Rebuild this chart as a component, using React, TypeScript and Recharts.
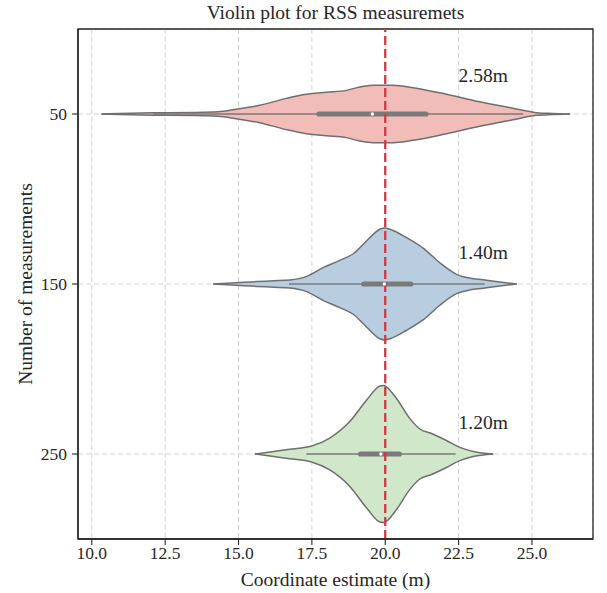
import { Area, CartesianGrid, ComposedChart, ReferenceArea, ReferenceDot, ReferenceLine, XAxis, YAxis } from "recharts"

const FONT = '"Liberation Serif", "DejaVu Serif", serif'
const INK = "#262626"
const OUTLINE = "#6f6f6f"

const categories = ["50", "150", "250"]
const fills = ["#f2bdb9", "#b9cde0", "#d0e7ca"]
const errorLabels = ["2.58m", "1.40m", "1.20m"]
const labelX = [22.5, 22.5, 22.5]
const labelY = [-0.19, 0.85, 1.85]

// violin outlines: coordinate -> half width (share of one category band)
const pinkX = [10.33, 12.1, 13.5, 14.3, 14.93, 15.72, 16.63, 17.31, 18.0, 18.68, 19.13, 19.59, 20.27, 20.95, 22.09, 23.22, 24.35, 25.15, 25.7, 26.29]
const pinkW = [0, 0.007, 0.009, 0.013, 0.028, 0.051, 0.092, 0.116, 0.128, 0.139, 0.159, 0.169, 0.169, 0.155, 0.116, 0.072, 0.034, 0.008, 0.003, 0]
const blueX = [14.14, 14.9, 15.61, 16.2, 16.75, 17.32, 17.88, 18.45, 18.91, 19.36, 19.82, 19.99, 20.16, 20.73, 21.3, 21.86, 22.43, 22.9, 23.34, 23.9, 24.48]
const blueW = [0, 0.007, 0.014, 0.019, 0.024, 0.045, 0.096, 0.139, 0.178, 0.253, 0.322, 0.329, 0.322, 0.272, 0.21, 0.125, 0.057, 0.034, 0.025, 0.012, 0]
const greenX = [15.56, 16.2, 16.75, 17.49, 18.11, 18.8, 19.36, 19.82, 19.95, 20.05, 20.39, 20.84, 21.18, 21.6, 22.07, 22.54, 23.0, 23.68]
const greenW = [0, 0.015, 0.028, 0.047, 0.094, 0.192, 0.316, 0.4, 0.403, 0.394, 0.325, 0.208, 0.147, 0.119, 0.081, 0.039, 0.015, 0]

// inner box: quartiles, median, whisker ends
const q1 = [17.66, 19.19, 19.08]
const q3 = [21.47, 20.95, 20.56]
const medians = [19.56, 19.97, 19.85]
const whiskerLo = [12.09, 16.72, 17.31]
const whiskerHi = [24.7, 23.39, 22.4]

const xTicks = [10, 12.5, 15, 17.5, 20, 22.5, 25]
const truth = 20

const violins = [
  { xs: pinkX, ws: pinkW },
  { xs: blueX, ws: blueW },
  { xs: greenX, ws: greenW },
].map((v, i) => v.xs.map((x, j) => ({ x, r: [i - v.ws[j], i + v.ws[j]] })))

const XMIN = 9.53
const XMAX = 27.08
const YMIN = -0.5
const YMAX = 2.5

const XTick = (p: any) => (
  <text x={p.x} y={p.y} dy={12.5} textAnchor="middle" fill={INK} fontSize={17.5} fontFamily={FONT}>
    {p.payload.value.toFixed(1)}
  </text>
)

const YTick = (p: any) => (
  <text x={p.x} y={p.y} dy={6} textAnchor="end" fill={INK} fontSize={17.5} fontFamily={FONT}>
    {categories[p.payload.value]}
  </text>
)

export default function App() {
  return (
    <div style={{ position: "absolute", left: 0, top: 0 }}>
      <ComposedChart
        width={607}
        height={593}
        margin={{ top: 29, right: 14, bottom: 14, left: 0 }}
        style={{ fontFamily: FONT }}
      >
        <CartesianGrid stroke="#d4d4d4" strokeDasharray="5 3" />
        <XAxis
          dataKey="x"
          type="number"
          domain={[XMIN, XMAX]}
          allowDataOverflow
          ticks={xTicks}
          tick={<XTick />}
          tickSize={6}
          tickMargin={1}
          axisLine={{ stroke: INK, strokeWidth: 1.3 }}
          tickLine={{ stroke: INK, strokeWidth: 1.1 }}
          height={40}
          label={{
            content: (p: any) => {
              const vb = p.viewBox || { x: 78, y: 539, width: 515 }
              return (
                <text x={vb.x + vb.width / 2} y={vb.y + 47} textAnchor="middle" fill={INK} fontSize={19.5} fontFamily={FONT}>
                  Coordinate estimate (m)
                </text>
              )
            },
          }}
        />
        <YAxis
          type="number"
          domain={[YMIN, YMAX]}
          allowDataOverflow
          reversed
          ticks={[0, 1, 2]}
          tick={<YTick />}
          tickSize={6}
          tickMargin={5}
          axisLine={{ stroke: INK, strokeWidth: 1.3 }}
          tickLine={{ stroke: INK, strokeWidth: 1.1 }}
          width={78}
          label={{
            content: (p: any) => {
              const vb = p.viewBox || { x: 0, y: 29, height: 510 }
              const cx = vb.x + 32
              const cy = vb.y + vb.height / 2
              return (
                <text x={cx} y={cy} transform={`rotate(-90, ${cx}, ${cy})`} textAnchor="middle" fill={INK} fontSize={19.5} fontFamily={FONT}>
                  Number of measurements
                </text>
              )
            },
          }}
        />

        {violins.map((data, i) => (
          <Area
            key={categories[i]}
            data={data}
            dataKey="r"
            type="monotone"
            fill={fills[i]}
            fillOpacity={1}
            stroke={OUTLINE}
            strokeWidth={1.5}
            dot={false}
            activeDot={false}
            isAnimationActive={false}
          />
        ))}

        {categories.map((c, i) => (
          <ReferenceLine
            key={`w-${c}`}
            segment={[{ x: whiskerLo[i], y: i }, { x: whiskerHi[i], y: i }]}
            stroke="#7a7a7a"
            strokeWidth={1.6}
          />
        ))}
        {categories.map((c, i) => (
          <ReferenceLine
            key={`b-${c}`}
            segment={[{ x: q1[i] + 0.08, y: i }, { x: q3[i] - 0.08, y: i }]}
            stroke="#7a7a7a"
            strokeWidth={5.2}
            strokeLinecap="round"
          />
        ))}
        {categories.map((c, i) => (
          <ReferenceDot key={`m-${c}`} x={medians[i]} y={i} r={1.7} fill="#ffffff" stroke="none" />
        ))}

        <ReferenceLine x={truth} stroke="#cc3b44" strokeWidth={2.3} strokeDasharray="9 4" />

        {errorLabels.map((t, i) => (
          <ReferenceDot
            key={`l-${t}`}
            x={labelX[i]}
            y={labelY[i]}
            r={1}
            shape={(p: any) => (
              <text x={p.cx} y={p.cy} fill={INK} fontSize={19.5} fontFamily={FONT}>
                {t}
              </text>
            )}
          />
        ))}

        {/* plot frame with the title above it */}
        <ReferenceArea
          x1={XMIN}
          x2={XMAX}
          y1={YMIN}
          y2={YMAX}
          ifOverflow="visible"
          fill="none"
          stroke={INK}
          strokeWidth={1.3}
          label={{
            content: (p: any) => {
              const vb = p.viewBox || { x: 78, y: 29, width: 515 }
              return (
                <text x={vb.x + vb.width / 2} y={vb.y - 10} textAnchor="middle" fill={INK} fontSize={19.5} fontFamily={FONT}>
                  Violin plot for RSS measuremets
                </text>
              )
            },
          }}
        />
      </ComposedChart>
    </div>
  )
}
